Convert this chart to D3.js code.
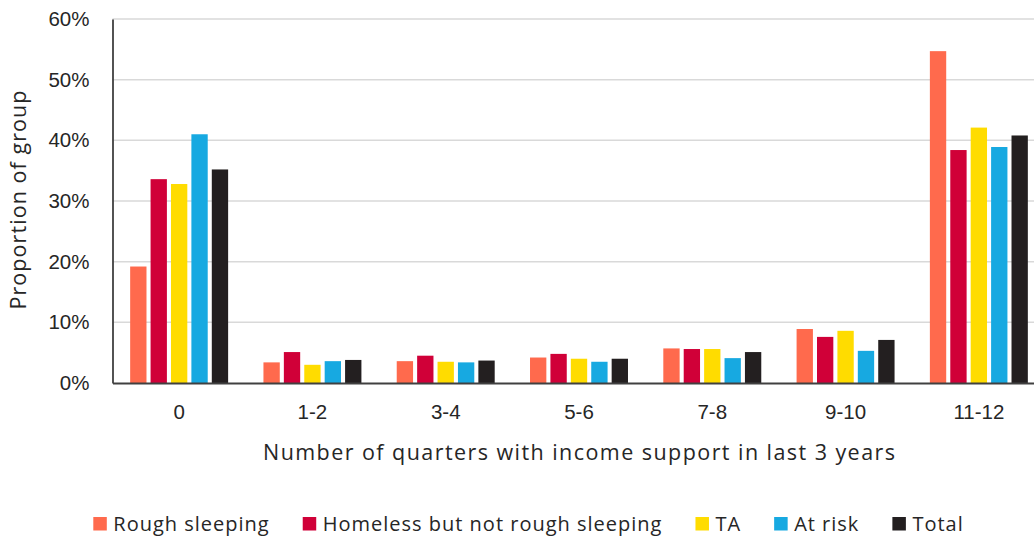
<!DOCTYPE html>
<html>
<head>
<meta charset="utf-8">
<script src="https://cdn.jsdelivr.net/npm/d3@7"></script>
<style>
  html, body { margin: 0; padding: 0; background: #ffffff; }
  svg { display: block; font-family: "Liberation Sans", Arial, sans-serif; }
</style>
</head>
<body>
<svg id="chart" width="1034" height="539"></svg>
<script>
// Share of each group by number of quarters with income support (per cent)
const categories = ["0", "1-2", "3-4", "5-6", "7-8", "9-10", "11-12"];
const seriesNames = ["Rough sleeping", "Homeless but not rough sleeping", "TA", "At risk", "Total"];
const roughSleeping = [19.2, 3.4, 3.6, 4.2, 5.7, 8.9, 54.7];
const homelessNotRough = [33.6, 5.1, 4.5, 4.8, 5.6, 7.6, 38.4];
const tempAccommodation = [32.8, 3.0, 3.5, 4.0, 5.6, 8.6, 42.1];
const atRisk = [41.0, 3.6, 3.4, 3.5, 4.1, 5.3, 38.9];
const total = [35.2, 3.8, 3.7, 4.0, 5.1, 7.1, 40.8];
const yTicks = [0, 10, 20, 30, 40, 50, 60];

const seriesValues = [roughSleeping, homelessNotRough, tempAccommodation, atRisk, total];
const colors = ["#ff6a4d", "#d00038", "#ffdc00", "#17a9e1", "#231f20"];

const svg = d3.select("#chart");
const textColor = "#262626";
const labelFont = "'Open Sans', 'Liberation Sans', sans-serif";

const plot = { left: 112.5, right: 1045.5, top: 19, bottom: 383 };

const x0 = d3.scaleBand().domain(categories).range([plot.left, plot.right]).padding(0);
const x1 = d3.scaleBand().domain(seriesNames)
  .range([x0.step() * 0.1325, x0.step() * 0.8675]).paddingInner(0.2).paddingOuter(0);
const y = d3.scaleLinear().domain([0, 60]).range([plot.bottom, plot.top]);

// gridlines
svg.append("g")
  .selectAll("line")
  .data(yTicks.filter(t => t > 0))
  .join("line")
  .attr("x1", plot.left).attr("x2", plot.right)
  .attr("y1", d => y(d)).attr("y2", d => y(d))
  .attr("stroke", "#d9d9d9").attr("stroke-width", 1.5);

// bars
const groups = svg.append("g")
  .selectAll("g")
  .data(categories)
  .join("g")
  .attr("transform", c => `translate(${x0(c)},0)`);

groups.selectAll("rect")
  .data((c, i) => seriesNames.map((s, j) => ({ s, j, v: seriesValues[j][i] })))
  .join("rect")
  .attr("x", d => x1(d.s))
  .attr("width", x1.bandwidth())
  .attr("y", d => y(d.v))
  .attr("height", d => y(0) - y(d.v))
  .attr("fill", d => colors[d.j]);

// y axis
const yAxis = svg.append("g")
  .attr("transform", `translate(${plot.left},0)`)
  .call(d3.axisLeft(y).tickValues(yTicks).tickFormat(d => d + "%").tickSize(0).tickPadding(23));
yAxis.select(".domain").attr("stroke", "#404040").attr("stroke-width", 1.8);
yAxis.selectAll("text")
  .attr("font-size", 20.5)
  .attr("fill", textColor)
  .attr("font-family", "Liberation Sans, Arial, sans-serif");

// x axis
const xAxis = svg.append("g")
  .attr("transform", `translate(0,${plot.bottom})`)
  .call(d3.axisBottom(x0).tickSize(0).tickPadding(21));
xAxis.select(".domain").attr("stroke", "#404040").attr("stroke-width", 1.8);
xAxis.selectAll("text")
  .attr("font-size", 20.5)
  .attr("fill", textColor)
  .attr("font-family", "Liberation Sans, Arial, sans-serif");

// axis titles
svg.append("text")
  .attr("x", 579).attr("y", 460)
  .attr("text-anchor", "middle")
  .attr("font-family", labelFont)
  .attr("font-size", 21.5)
  .attr("fill", textColor)
  .attr("textLength", 632).attr("lengthAdjust", "spacing")
  .text("Number of quarters with income support in last 3 years");

svg.append("text")
  .attr("transform", "translate(26,200) rotate(-90)")
  .attr("text-anchor", "middle")
  .attr("font-family", labelFont)
  .attr("font-size", 21.5)
  .attr("fill", textColor)
  .attr("textLength", 219).attr("lengthAdjust", "spacing")
  .text("Proportion of group");

// legend
const legend = svg.append("g");
let lx = 93.3;
seriesNames.forEach((name, i) => {
  legend.append("rect")
    .attr("x", lx).attr("y", 517)
    .attr("width", 13.5).attr("height", 13.5)
    .attr("fill", colors[i]);
  const t = legend.append("text")
    .attr("x", lx + 20).attr("y", 531)
    .attr("font-family", labelFont)
    .attr("font-size", 20)
    .attr("letter-spacing", 1)
    .attr("fill", textColor)
    .text(name);
  lx = lx + 20 + t.node().getBBox().width + 33;
});
</script>
</body>
</html>
